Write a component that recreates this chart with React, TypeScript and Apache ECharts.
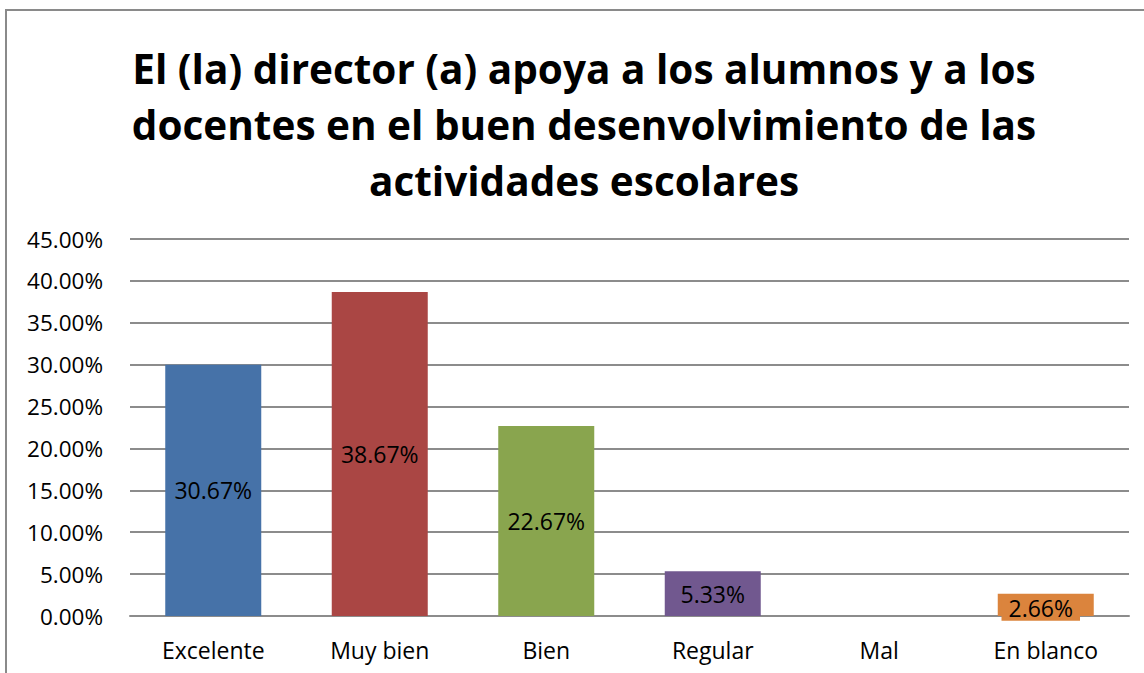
import React, { useEffect, useRef } from "react";
import * as echarts from "echarts";

const titleLines = [
  "El (la) director (a) apoya a los alumnos y a los",
  "docentes en el buen desenvolvimiento de las",
  "actividades escolares",
];
const categories = ["Excelente", "Muy bien", "Bien", "Regular", "Mal", "En blanco"];
const barValues = [30.0, 38.67, 22.67, 5.33, 0, 2.66];
const labelTexts = ["30.67%", "38.67%", "22.67%", "5.33%", "", "2.66%"];
const barColors = ["#4672A8", "#AA4644", "#89A54E", "#71588F", "#4198AF", "#DB843D"];
const yTicks = { min: 0, max: 45, interval: 5 };

const FONT = "'Open Sans', Lato, sans-serif";

export default function App() {
  const ref = useRef<HTMLDivElement>(null);
  useEffect(() => {
    if (!ref.current) return;
    const chart = echarts.init(ref.current, undefined, { renderer: "svg" });
    chart.setOption({
      animation: false,
      backgroundColor: "#ffffff",
      textStyle: { fontFamily: FONT },
      graphic: [
        {
          type: "rect",
          shape: { x: 6, y: 10, width: 1300, height: 800 },
          style: { fill: "none", stroke: "#8a8a8a", lineWidth: 2 },
          silent: true,
        },
        {
          type: "text",
          x: 584,
          y: 40,
          style: {
            text: titleLines.join("\n"),
            fontFamily: FONT,
            fontWeight: "bold",
            fontSize: 40.5,
            lineHeight: 56,
            fill: "#000000",
            align: "center",
            verticalAlign: "top",
          },
        },
      ],
      grid: { left: 130, right: 15, top: 239, bottom: 57, containLabel: false },
      xAxis: {
        type: "category",
        data: categories,
        axisTick: { show: false },
        axisLine: { show: true, lineStyle: { color: "#8c8c8c", width: 2 } },
        axisLabel: { color: "#000", fontSize: 23, fontFamily: FONT, margin: 22 },
      },
      yAxis: {
        type: "value",
        min: yTicks.min,
        max: yTicks.max,
        interval: yTicks.interval,
        axisLine: { show: false },
        axisTick: { show: false },
        splitLine: { lineStyle: { color: "#8c8c8c", width: 2 } },
        axisLabel: {
          color: "#000",
          fontSize: 22.5,
          fontFamily: FONT,
          margin: 27,
          formatter: (v: number) => v.toFixed(2) + "%",
        },
      },
      series: [
        {
          type: "bar",
          barWidth: 96,
          data: barValues.map((v, i) => ({
            value: v,
            itemStyle: { color: barColors[i] },
            label:
              i === 5
                ? {
                    show: true,
                    backgroundColor: barColors[i],
                    padding: [2, 7, 1, 7],
                    offset: [-5, 3],
                  }
                : { show: labelTexts[i] !== "" },
          })),
          label: {
            show: true,
            position: "inside",
            color: "#000",
            fontSize: 23,
            fontFamily: FONT,
            formatter: (p: any) => labelTexts[p.dataIndex],
          },
        },
      ],
    });
    return () => chart.dispose();
  }, []);
  return (
    <div
      ref={ref}
      style={{ position: "fixed", left: 0, top: 0, width: 1144, height: 673 }}
    />
  );
}
